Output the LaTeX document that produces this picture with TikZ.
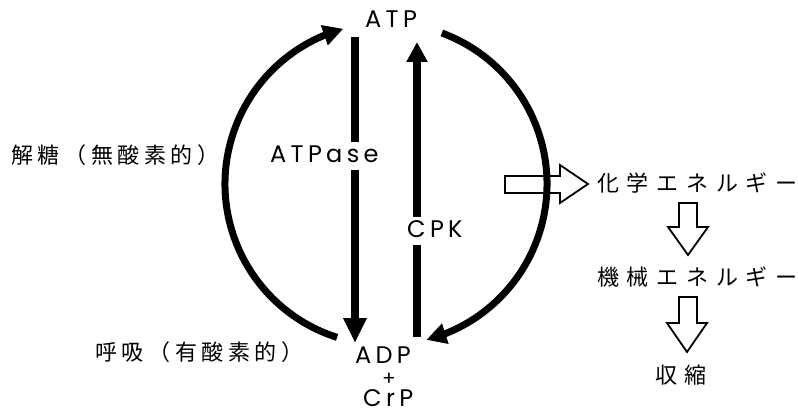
\documentclass[tikz,border=0pt]{standalone}
\usepackage{fontspec}
\setmainfont{Poppins}
\newfontfamily\lblfont[LetterSpace=18]{Poppins}
\newfontfamily\jpfont[LetterSpace=21]{Noto Sans CJK JP}
\newfontfamily\jpwfont[LetterSpace=35]{Noto Sans CJK JP}
\usetikzlibrary{arrows.meta,bending}

\begin{document}
\begin{tikzpicture}[x=1pt,y=-1pt,
  lbl/.style={font=\lblfont\fontsize{24}{24}\selectfont, inner sep=0pt, anchor=base west,
              text height=17pt, text depth=0pt},
  cut/.style={lbl, fill=white, text height=16pt, text depth=2pt, inner ysep=5pt, inner xsep=2pt},
  jpl/.style={font=\jpfont\fontsize{22}{22}\selectfont, inner sep=0pt, anchor=west},
  jpr/.style={font=\jpwfont\fontsize{22}{22}\selectfont, inner sep=0pt, anchor=west},
  flow/.style={line width=7pt},
  tipA/.style={-{Triangle[length=20pt,width=20pt]}},
  tipB/.style={-{Triangle[length=25pt,width=22pt]}},
  hollow/.style={draw, line width=1.8pt, fill=white, line join=miter}]
\useasboundingbox (0,0) rectangle (798,414);

% centre of the ATP/ADP cycle
\coordinate (cyc) at (386,184);

% compound labels
\node[lbl] (atp) at (365,28) {ATP};
\node[lbl] (adp) at (355,363) {ADP};
\node[lbl, anchor=base, font=\lblfont\fontsize{20}{20}\selectfont, text height=12pt] (plus) at (389,385) {+};
\node[lbl] (crp) at (363,406) {CrP};

% pathway labels
\node[jpl] (glyco) at (11,155) {解糖（無酸素的）};
\node[jpl] (resp) at (95,352) {呼吸（有酸素的）};

% energy chain
\node[jpr] (chem) at (597,183) {化学エネルギー};
\node[jpr] (mech) at (597,277) {機械エネルギー};
\node[jpr] (contr) at (655,375) {収縮};

% hollow block arrows
\draw[hollow] (505,176) -- (560,176) -- (560,165) -- (588,184) -- (560,203) -- (560,193) -- (505,193) -- cycle;
\draw[hollow] (679,203) -- (697,203) -- (697,227) -- (708,227) -- (688,255) -- (668,227) -- (679,227) -- cycle;
\draw[hollow] (679,297) -- (697,297) -- (697,323) -- (707,323) -- (687,352) -- (667,323) -- (679,323) -- cycle;

% cycle arcs
\draw[flow, tipA] (cyc) ++(107.7:161) arc[start angle=107.7, end angle=254.6, radius=161];
\draw[flow, tipA] (cyc) ++(-69.7:161) arc[start angle=-69.7, end angle=75.5, radius=161];

% enzyme reactions
\coordinate (atpdown) at (355,37);
\coordinate (adpin) at (355,343);
\coordinate (adpout) at (417,337);
\coordinate (atpin) at (417,42);
\draw[line width=8pt, tipB] (atpdown) -- (adpin);
\draw[line width=8pt, tipA] (adpout) -- (atpin);
\node[cut] (atpase) at (268,163) {ATPase};
\node[cut] (cpk) at (405,238) {CPK};
\end{tikzpicture}
\end{document}
